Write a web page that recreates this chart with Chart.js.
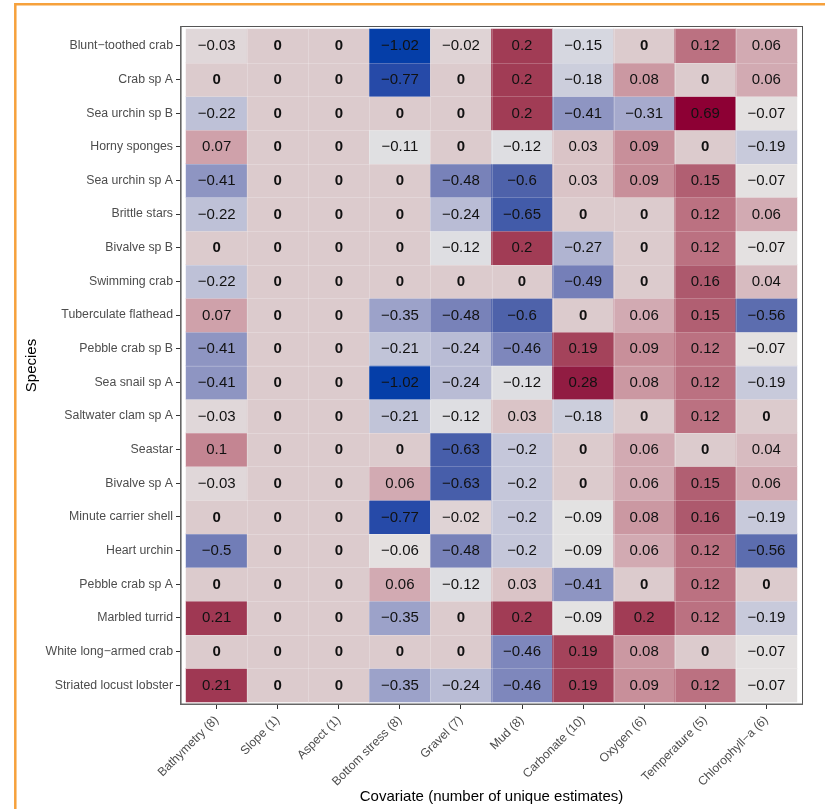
<!DOCTYPE html>
<html><head><meta charset="utf-8">
<script src="https://cdn.jsdelivr.net/npm/chart.js@4.4.1/dist/chart.umd.min.js"></script>
<style>html,body{margin:0;padding:0;background:#fff;}canvas{display:block;}</style>
</head><body>
<canvas id="c" width="825" height="809"></canvas>
<script>
// ---- data (rows top to bottom) ----
const species = ["Blunt\u2212toothed crab","Crab sp A","Sea urchin sp B","Horny sponges","Sea urchin sp A","Brittle stars","Bivalve sp B","Swimming crab","Tuberculate flathead","Pebble crab sp B","Sea snail sp A","Saltwater clam sp A","Seastar","Bivalve sp A","Minute carrier shell","Heart urchin","Pebble crab sp A","Marbled turrid","White long\u2212armed crab","Striated locust lobster"];
const covariates = ["Bathymetry (8)","Slope (1)","Aspect (1)","Bottom stress (8)","Gravel (7)","Mud (8)","Carbonate (10)","Oxygen (6)","Temperature (5)","Chlorophyll\u2212a (6)"];
const bathymetry   = [-0.03,0,-0.22,0.07,-0.41,-0.22,0,-0.22,0.07,-0.41,-0.41,-0.03,0.1,-0.03,0,-0.5,0,0.21,0,0.21];
const slope        = [0,0,0,0,0,0,0,0,0,0,0,0,0,0,0,0,0,0,0,0];
const aspect       = [0,0,0,0,0,0,0,0,0,0,0,0,0,0,0,0,0,0,0,0];
const bottomStress = [-1.02,-0.77,0,-0.11,0,0,0,0,-0.35,-0.21,-1.02,-0.21,0,0.06,-0.77,-0.06,0.06,-0.35,0,-0.35];
const gravel       = [-0.02,0,0,0,-0.48,-0.24,-0.12,0,-0.48,-0.24,-0.24,-0.12,-0.63,-0.63,-0.02,-0.48,-0.12,0,0,-0.24];
const mud          = [0.2,0.2,0.2,-0.12,-0.6,-0.65,0.2,0,-0.6,-0.46,-0.12,0.03,-0.2,-0.2,-0.2,-0.2,0.03,0.2,-0.46,-0.46];
const carbonate    = [-0.15,-0.18,-0.41,0.03,0.03,0,-0.27,-0.49,0,0.19,0.28,-0.18,0,0,-0.09,-0.09,-0.41,-0.09,0.19,0.19];
const oxygen       = [0,0.08,-0.31,0.09,0.09,0,0,0,0.06,0.09,0.08,0,0.06,0.06,0.08,0.06,0,0.2,0.08,0.09];
const temperature  = [0.12,0,0.69,0,0.15,0.12,0.12,0.16,0.15,0.12,0.12,0.12,0,0.15,0.16,0.12,0.12,0.12,0,0.12];
const chlorophyll  = [0.06,0.06,-0.07,-0.19,-0.07,0.06,-0.07,0.04,-0.56,-0.07,-0.19,0,0.04,0.06,-0.19,-0.56,0,-0.19,-0.07,-0.07];
const columns = [bathymetry,slope,aspect,bottomStress,gravel,mud,carbonate,oxygen,temperature,chlorophyll];

// ---- colour scale (diverging, blue -> grey -> red) ----
const colorStops = [
  [-1.02,[5,62,168]],[-0.77,[38,74,168]],[-0.6,[78,98,170]],[-0.48,[120,130,185]],
  [-0.41,[142,149,194]],[-0.3,[168,172,206]],[-0.22,[190,193,215]],[-0.15,[214,215,224]],
  [-0.1,[227,226,227]],[-0.06,[228,224,224]],[-0.03,[224,215,217]],[0,[220,203,205]],
  [0.03,[218,196,199]],[0.06,[210,170,178]],[0.09,[200,143,154]],[0.12,[187,113,129]],
  [0.16,[173,89,109]],[0.2,[161,60,85]],[0.28,[145,28,66]],[0.69,[141,0,52]]
];
function cellColor(v){
  if (v <= colorStops[0][0]) return 'rgb('+colorStops[0][1].join(',')+')';
  for (let k=1;k<colorStops.length;k++){
    const [v1,c1]=colorStops[k-1],[v2,c2]=colorStops[k];
    if (v<=v2){
      const t=(v-v1)/(v2-v1);
      return 'rgb('+c1.map((c,i)=>Math.round(c+(c2[i]-c)*t)).join(',')+')';
    }
  }
  return 'rgb('+colorStops[colorStops.length-1][1].join(',')+')';
}
function fmt(v){ return v===0 ? '0' : (v<0?'\u2212':'')+String(Math.abs(v)); }

// one dataset per species row, floating bars spanning the row
const datasets = species.map((s,i)=>({
  label:s,
  data: columns.map((col,j)=>({x:j, y:[i-0.5,i+0.5], v:col[i]})),
  backgroundColor: columns.map(col=>cellColor(col[i])),
  borderWidth:0,
  grouped:false,
  barPercentage:1,
  categoryPercentage:1
}));

const FONT = "'Liberation Sans', Arial, sans-serif";

const decor = {
  id:'decor',
  beforeDraw(chart){
    const ctx=chart.ctx; ctx.save();
    ctx.fillStyle='#fff'; ctx.fillRect(0,0,chart.width,chart.height);
    ctx.strokeStyle='#f6a13c'; ctx.lineWidth=2.5;
    ctx.beginPath(); ctx.moveTo(15.3,chart.height); ctx.lineTo(15.3,4.3); ctx.lineTo(chart.width,4.3); ctx.stroke();
    ctx.restore();
  },
  afterDatasetsDraw(chart){
    const ctx=chart.ctx, xs=chart.scales.x, ys=chart.scales.y, ca=chart.chartArea;
    ctx.save();
    // cell seams
    ctx.strokeStyle='rgba(255,255,255,0.22)'; ctx.lineWidth=1;
    const xl=xs.getPixelForValue(-0.5), xr=xs.getPixelForValue(covariates.length-0.5);
    const yt=ys.getPixelForValue(-0.5), yb=ys.getPixelForValue(species.length-0.5);
    ctx.beginPath();
    for(let j=0;j<covariates.length-1;j++){const x=Math.round(xs.getPixelForValue(j+0.5))+0.5; ctx.moveTo(x,yt); ctx.lineTo(x,yb);}
    for(let i=0;i<species.length-1;i++){const y=Math.round(ys.getPixelForValue(i+0.5))+0.5; ctx.moveTo(xl,y); ctx.lineTo(xr,y);}
    ctx.stroke();
    // labels
    ctx.textAlign='center'; ctx.textBaseline='middle'; ctx.fillStyle='#111';
    chart.data.datasets.forEach((ds,i)=>{
      const meta=chart.getDatasetMeta(i);
      meta.data.forEach((el,j)=>{
        const v=ds.data[j].v; const p=el.getCenterPoint();
        ctx.font=(v===0?'bold ':'')+'15px '+FONT;
        ctx.fillText(fmt(v),p.x,p.y+0.5);
      });
    });
    // panel border
    ctx.strokeStyle='#555'; ctx.lineWidth=1;
    ctx.strokeRect(ca.left+0.5,ca.top+0.5,ca.right-ca.left-1,ca.bottom-ca.top-1);
    ctx.strokeStyle='#666'; ctx.lineWidth=1.6;
    ctx.beginPath(); ctx.moveTo(ca.left+0.8,ca.top); ctx.lineTo(ca.left+0.8,ca.bottom-0.8); ctx.lineTo(ca.right,ca.bottom-0.8); ctx.stroke();
    ctx.restore();
  }
};

new Chart(document.getElementById('c'),{
  type:'bar',
  data:{datasets},
  plugins:[decor],
  options:{
    responsive:false, animation:false, devicePixelRatio:1,
    datasets:{bar:{barPercentage:1, categoryPercentage:1}},
    layout:{padding:{left:19,top:26,right:22,bottom:0}},
    plugins:{legend:{display:false},tooltip:{enabled:false}},
    scales:{
      x:{
        type:'linear', offset:false, min:-0.6, max:covariates.length-0.4,
        afterBuildTicks(s){ s.ticks=covariates.map((c,j)=>({value:j})); },
        afterFit(s){ s.height=104; s.paddingLeft=0; s.paddingRight=0; },
        ticks:{autoSkip:false, minRotation:45, maxRotation:45, padding:4, color:'#4d4d4d',
          font:{family:FONT,size:12.2}, callback:(v)=>covariates[Math.round(v)]},
        grid:{display:true, offset:false, drawOnChartArea:false, drawTicks:true, tickLength:4, color:'#333', lineWidth:1},
        border:{display:false},
        title:{display:true, text:'Covariate (number of unique estimates)', color:'#000',
          font:{family:FONT,size:15}, padding:{top:4,bottom:3}}
      },
      y:{
        type:'linear', offset:false, reverse:true, min:-0.59, max:species.length-0.41,
        afterBuildTicks(s){ s.ticks=species.map((c,i)=>({value:i})); },
        afterFit(s){ s.width=161; },
        ticks:{autoSkip:false, padding:3, color:'#4d4d4d', font:{family:FONT,size:12.3},
          callback:(v)=>species[Math.round(v)]},
        grid:{display:true, offset:false, drawOnChartArea:false, drawTicks:true, tickLength:4, color:'#333', lineWidth:1},
        border:{display:false},
        title:{display:true, text:'Species', color:'#000', font:{family:FONT,size:15}, padding:{top:4,bottom:4}}
      }
    }
  }
});
</script>
</body></html>
